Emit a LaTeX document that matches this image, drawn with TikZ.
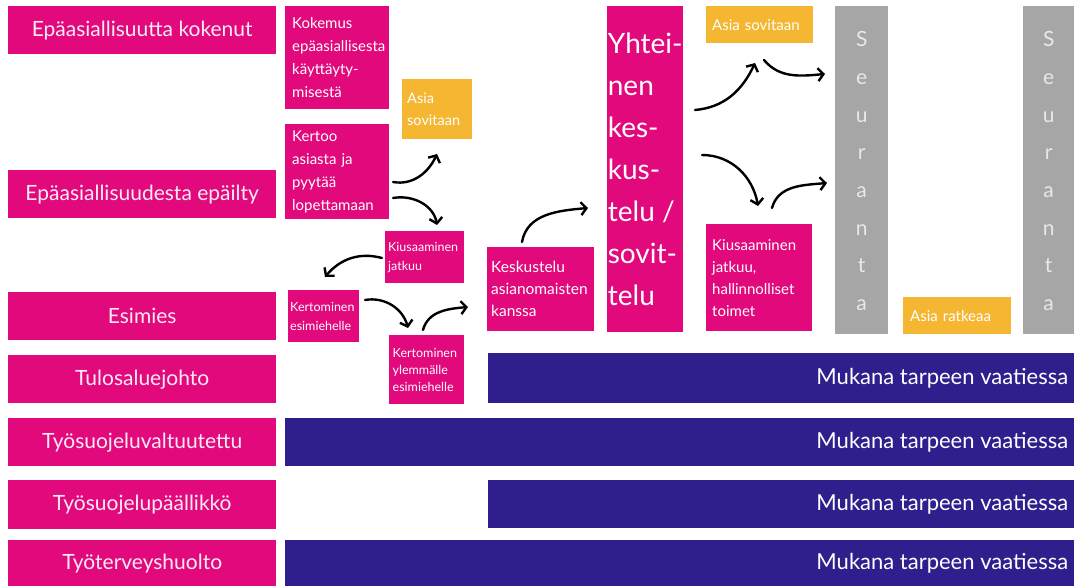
\documentclass[tikz,border=0pt]{standalone}
\usepackage{fontspec}
\setmainfont{Lato}
\usetikzlibrary{arrows.meta}
\hyphenpenalty=10000
\exhyphenpenalty=10000
\definecolor{mag}{HTML}{E2097D}
\definecolor{navy}{HTML}{2E1F8C}
\definecolor{gold}{HTML}{F5B731}
\definecolor{seugray}{HTML}{A6A6A6}
\definecolor{seutext}{HTML}{E8E8E8}
\definecolor{roletext}{HTML}{FCEAF4}
\begin{document}
\begin{tikzpicture}[x=1pt,y=1pt,
  rolebox/.style={anchor=north west, fill=mag, inner sep=0pt, text=roletext,
    minimum width=268pt, minimum height=48pt, font=\fontsize{21}{25}\selectfont},
  barbox/.style={anchor=north west, fill=navy, inner sep=0pt},
  bartext/.style={anchor=east, text=white, inner sep=0pt, font=\fontsize{22}{26}\selectfont},
  flowbox/.style={anchor=north west, fill=mag, inner sep=0pt, text=white, align=left},
  goldbox/.style={anchor=north west, fill=gold, inner sep=0pt, text=white, align=left},
  seubox/.style={anchor=north west, fill=seugray, inner sep=0pt},
  seutxt/.style={text=seutext, align=center, inner sep=0pt, font=\fontsize{21}{37.7}\selectfont},
  flow/.style={-{Straight Barb[length=5.5pt,width=13pt]}, line width=2.4pt, line cap=round, black}
]
\useasboundingbox (0,0) rectangle (1076,-586);

% role labels
\node[rolebox] (r1) at (8,-6)   {Epäasiallisuutta kokenut};
\node[rolebox] (r2) at (8,-170) {Epäasiallisuudesta epäilty};
\node[rolebox] (r3) at (8,-292) {Esimies};
\node[rolebox] (r4) at (8,-355) {Tulosaluejohto};
\node[rolebox] (r5) at (8,-418) {Työsuojeluvaltuutettu};
\node[rolebox, minimum height=49pt] (r6) at (8,-480) {Työsuojelupäällikkö};
\node[rolebox, minimum height=47pt] (r7) at (8,-540) {Työterveyshuolto};

% blue bars
\node[barbox, minimum width=586pt, minimum height=50pt] (b4) at (488,-353) {};
\node[barbox, minimum width=789pt, minimum height=48pt] (b5) at (285,-418) {};
\node[barbox, minimum width=586pt, minimum height=48pt] (b6) at (488,-480) {};
\node[barbox, minimum width=789pt, minimum height=46pt] (b7) at (285,-540) {};
\node[bartext] (t4) at ([xshift=-6pt]b4.east) {Mukana tarpeen vaatiessa};
\node[bartext] (t5) at ([xshift=-6pt]b5.east) {Mukana tarpeen vaatiessa};
\node[bartext] (t6) at ([xshift=-6pt]b6.east) {Mukana tarpeen vaatiessa};
\node[bartext] (t7) at ([xshift=-6pt]b7.east) {Mukana tarpeen vaatiessa};

% flow boxes
\node[flowbox, minimum width=104pt, minimum height=103pt, text width=90pt,
  font=\fontsize{15}{23}\selectfont] (kokemus) at (285,-6)
  {Kokemus\\epäasiallisesta\\käyttäyty-\\misestä};
\node[flowbox, minimum width=104pt, minimum height=95pt, text width=90pt,
  font=\fontsize{15}{23}\selectfont] (kertoo) at (285,-124)
  {Kertoo\\asiasta ja\\pyytää\\lopettamaan};
\node[goldbox, minimum width=70pt, minimum height=60pt, text width=60pt,
  font=\fontsize{14.5}{22}\selectfont] (sov1) at (402,-79)
  {Asia\\sovitaan};
\node[flowbox, minimum width=79pt, minimum height=52pt, text width=73pt,
  font=\fontsize{12.5}{19}\selectfont] (kius1) at (385,-231)
  {Kiusaaminen\\jatkuu};
\node[flowbox, minimum width=71pt, minimum height=52pt, text width=67pt,
  font=\fontsize{12.5}{19}\selectfont] (kert1) at (288,-290)
  {Kertominen\\esimiehelle};
\node[flowbox, minimum width=75pt, minimum height=69pt, text width=68pt,
  font=\fontsize{12.5}{17}\selectfont] (kert2) at (389,-335)
  {Kertominen\\ylemmälle\\esimiehelle};
\node[flowbox, minimum width=107pt, minimum height=84pt, text width=99pt,
  font=\fontsize{15.5}{22}\selectfont] (kesk) at (487,-247)
  {Keskustelu\\asianomaisten\\kanssa};
\node[flowbox, minimum width=76pt, minimum height=326pt,
  font=\fontsize{28}{42}\selectfont] (yht) at (607,-6)
  {Yhtei-\\nen\\kes-\\kus-\\telu /\\sovit-\\telu};
\node[goldbox, minimum width=107pt, minimum height=37pt, text width=95pt,
  font=\fontsize{15}{20}\selectfont] (sov2) at (706,-6)
  {Asia sovitaan};
\node[flowbox, minimum width=106pt, minimum height=107pt, text width=94pt,
  font=\fontsize{15}{22}\selectfont] (kius2) at (706,-224)
  {Kiusaaminen\\jatkuu,\\hallinnolliset\\toimet};
\node[goldbox, minimum width=108pt, minimum height=37pt, text width=94pt,
  font=\fontsize{15}{20}\selectfont] (ratk) at (903,-297)
  {Asia ratkeaa};

% seuranta columns
\node[seubox, minimum width=53pt, minimum height=328pt] (seur1) at (835,-6) {};
\node[seubox, minimum width=51pt, minimum height=328pt] (seur2) at (1023,-6) {};
\node[seutxt] (st1) at ([yshift=-1pt]seur1.center) {S\\e\\u\\r\\a\\n\\t\\a};
\node[seutxt] (st2) at ([yshift=-1pt]seur2.center) {S\\e\\u\\r\\a\\n\\t\\a};

% arrow end points
\coordinate (a1s) at (393,-182); \coordinate (a1e) at (437,-154);
\coordinate (a2s) at (393,-198); \coordinate (a2e) at (437,-225);
\coordinate (a3s) at (382,-258); \coordinate (a3e) at (325,-277);
\coordinate (a4s) at (365,-300); \coordinate (a4e) at (408,-328);
\coordinate (a5s) at (423,-330); \coordinate (a5e) at (468,-307);
\coordinate (a6s) at (522,-242); \coordinate (a6e) at (588,-208);
\coordinate (a7s) at (695,-110); \coordinate (a7e) at (755,-63);
\coordinate (a8s) at (764,-60);  \coordinate (a8e) at (825,-74);
\coordinate (a9s) at (702,-155); \coordinate (a9e) at (758,-206);
\coordinate (a10s) at (772,-208); \coordinate (a10e) at (827,-183);

\draw[flow] (a1s) to[out=-10, in=-115] (a1e);
\draw[flow] (a2s) to[out=10, in=100] (a2e);
\draw[flow] (a3s) to[out=165, in=50] (a3e);
\draw[flow] (a4s) to[out=10, in=105] (a4e);
\draw[flow] (a5s) to[out=75, in=185] (a5e);
\draw[flow] (a6s) to[out=80, in=185] (a6e);
\draw[flow] (a7s) to[out=5, in=-115] (a7e);
\draw[flow] (a8s) to[out=-50, in=185] (a8e);
\draw[flow] (a9s) to[out=0, in=100] (a9e);
\draw[flow] (a10s) to[out=75, in=185] (a10e);
\end{tikzpicture}
\end{document}
